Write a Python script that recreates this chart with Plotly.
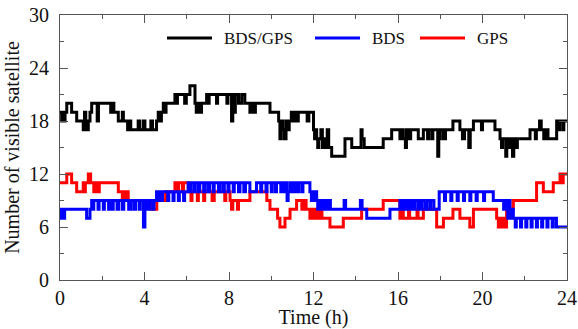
import plotly.graph_objects as go

# ---- data: step breakpoints (time in h, number of satellites) ----
t_bg = [0.00,0.08,0.12,0.20,0.24,0.32,0.55,0.79,1.10,1.16,1.22,1.28,1.34,1.42,1.50,1.76,1.82,2.40,2.48,2.55,
        2.76,2.95,3.00,3.20,3.28,3.35,3.70,3.78,3.95,4.02,4.30,4.38,4.57,4.65,4.72,4.80,4.89,4.95,5.02,5.44,
        5.50,5.56,5.90,5.98,6.15,6.39,6.45,6.52,6.60,6.70,6.94,7.00,7.06,7.41,7.46,7.90,7.95,8.12,8.18,8.25,
        8.30,8.45,8.60,8.75,8.99,9.05,9.15,9.25,9.94,10.35,10.41,10.47,10.55,10.62,10.70,10.78,10.85,10.95,11.02,11.10,
        11.20,11.28,11.70,11.78,12.00,12.05,12.10,12.15,12.20,12.25,12.35,12.42,12.50,12.58,12.65,12.72,12.86,13.49,13.81,14.25,
        14.30,14.40,15.30,15.70,16.09,16.15,16.25,16.35,16.40,16.50,16.60,16.96,17.20,17.40,17.45,17.60,17.65,17.88,17.93,18.00,
        18.15,18.25,18.60,18.93,19.05,19.15,19.35,19.42,19.57,19.95,20.00,20.59,20.83,20.90,20.95,21.10,21.15,21.25,21.30,21.42,
        21.48,21.60,21.65,22.25,22.50,22.55,22.70,22.78,22.90,22.98,23.10,23.51,23.60,23.65,23.80,23.85,24.00]
v_bg = [19,18,19,18,19,20,19,18,17,19,18,17,18,19,20,18,20,19,20,19,
        18,19,18,17,18,17,18,17,18,17,18,17,18,19,18,19,20,19,20,21,
        20,21,20,21,22,20,19,20,19,20,21,20,21,20,21,20,21,18,21,19,
        21,20,21,20,19,20,19,20,19,18,16,18,17,16,18,17,18,19,18,19,
        18,19,18,19,17,16,17,16,15,16,17,15,16,15,17,15,14,16,15,17,
        16,15,16,17,16,17,16,15,17,16,17,16,17,16,17,16,17,14,16,17,
        16,17,18,17,16,17,15,17,18,17,18,17,16,15,16,14,16,15,16,14,
        16,15,16,17,16,17,18,17,16,17,16,18,17,18,17,18,18]

t_bds = [0.00,0.05,0.10,0.16,0.22,1.26,1.42,1.50,1.55,1.60,1.80,1.85,2.05,2.10,2.30,2.38,2.45,2.52,2.70,2.78,
         2.95,3.02,3.25,3.35,3.50,3.58,3.75,3.80,3.95,4.02,4.08,4.20,4.25,4.40,4.45,4.57,4.62,4.70,4.75,4.85,
         5.10,5.15,5.35,5.40,5.60,5.65,5.85,5.90,6.07,6.15,6.20,6.35,6.40,6.55,6.62,6.80,6.85,7.00,7.08,7.25,
         7.30,7.50,7.55,7.70,7.78,7.95,8.00,8.20,8.25,8.45,8.52,8.70,8.78,8.99,9.30,9.50,9.55,9.75,9.80,10.00,
         10.05,10.20,10.25,10.45,10.50,10.60,10.70,10.75,10.80,10.90,11.00,11.10,11.20,11.30,11.45,11.50,11.83,11.90,11.95,12.05,
         12.10,12.15,12.20,12.28,12.35,12.45,12.50,12.60,12.65,12.75,12.80,13.45,13.52,14.22,14.30,14.52,15.62,16.09,16.15,16.20,
         16.30,16.35,16.45,16.50,16.60,16.65,16.75,16.80,16.95,17.00,17.10,17.15,17.30,17.35,17.50,17.55,17.70,17.95,18.20,18.25,
         18.50,18.55,18.80,18.85,19.10,19.15,19.40,19.45,19.70,19.75,20.05,20.10,20.51,21.00,21.05,21.14,21.20,21.25,21.30,21.38,
         21.46,21.55,21.60,21.80,21.85,22.05,22.10,22.30,22.35,22.55,22.60,22.80,22.85,23.05,23.10,23.30,23.35,23.50,24.00]
v_bds = [8,7,8,7,8,7,8,9,8,9,8,9,8,9,8,9,8,9,8,9,
         8,9,8,9,8,9,8,9,6,8,9,8,9,8,9,10,9,10,9,10,
         9,10,9,10,9,10,9,10,11,10,11,10,11,10,11,10,11,10,11,10,
         11,10,11,10,11,10,11,10,11,10,11,10,11,10,11,10,11,10,11,10,
         11,10,11,10,11,10,11,9,10,11,10,11,10,11,10,11,10,9,10,9,
         10,9,8,9,8,9,8,9,8,9,8,9,8,9,8,7,8,9,8,9,
         8,9,8,9,8,9,8,9,8,9,8,9,8,9,8,9,8,10,9,10,
         9,10,9,10,9,10,9,10,9,10,9,10,9,8,9,8,7,9,7,8,
         7,6,7,6,7,6,7,6,7,6,7,6,7,6,7,6,7,6,6]

t_gps = [0.00,0.32,0.55,0.79,1.10,1.15,1.20,1.34,1.45,1.60,1.68,1.81,1.86,2.76,2.95,3.00,3.10,3.20,3.23,4.33,
         4.58,5.00,5.44,5.55,5.62,5.80,5.85,6.07,6.20,6.25,6.50,6.55,6.80,6.85,7.20,7.30,7.80,7.85,8.05,8.12,
         8.18,8.40,8.45,8.99,9.79,9.94,10.30,10.41,10.65,10.89,11.20,11.45,11.55,11.65,11.83,11.90,12.00,12.10,12.20,12.30,
         12.40,12.78,13.41,14.28,15.30,16.09,16.20,16.25,16.50,16.55,16.90,16.95,17.20,17.83,18.15,18.60,18.93,19.40,19.57,20.67,
         20.75,20.80,20.90,20.95,21.05,21.14,21.25,21.30,21.46,22.56,22.88,23.35,23.67,23.75,23.82,24.00]
v_gps = [11,12,11,10,11,10,11,12,11,10,11,10,11,10,9,10,9,10,9,8,
         9,10,11,10,11,10,11,10,9,10,9,10,9,10,9,10,9,10,9,8,
         9,8,9,10,9,8,7,6,7,8,9,8,9,8,7,8,7,8,7,8,
         7,6,7,8,9,7,8,7,8,7,8,7,8,6,7,8,7,6,8,7,
         6,7,6,7,6,8,9,8,9,11,10,11,12,11,12,12]

legend_names = ["BDS/GPS", "BDS", "GPS"]
legend_colors = ["#000000", "#0000ff", "#ff0000"]

series = [
    ("BDS/GPS", t_bg, v_bg, "#000000"),
    ("GPS", t_gps, v_gps, "#ff0000"),
    ("BDS", t_bds, v_bds, "#0000ff"),
]

fig = go.Figure()
for name, t, v, col in series:
    fig.add_trace(go.Scatter(x=t, y=v, mode="lines", name=name, showlegend=False,
                             line=dict(color=col, width=3, shape="hv")))

# legend drawn in the top band of the plot (paper coordinates)
leg_y = 0.913
leg_line_x0 = [0.211, 0.503, 0.710]
leg_line_len = 0.0888
leg_text_gap = 0.0197
for name, col, x0 in zip(legend_names, legend_colors, leg_line_x0):
    fig.add_shape(type="line", xref="paper", yref="paper", x0=x0, x1=x0 + leg_line_len,
                  y0=leg_y, y1=leg_y, line=dict(color=col, width=3))
    fig.add_annotation(xref="paper", yref="paper", x=x0 + leg_line_len + leg_text_gap, y=leg_y,
                       text=name, showarrow=False, xanchor="left", yanchor="middle",
                       font=dict(size=17, color="#111111"))

axis_common = dict(showline=True, linecolor="#555555", linewidth=1, mirror="allticks",
                   ticks="inside", ticklen=8, tickcolor="#555555", showgrid=False, zeroline=False,
                   automargin=False, ticklabeloverflow="allow",
                   tickfont=dict(size=20, color="#111111"))
fig.update_xaxes(range=[0, 24], tickvals=[0, 4, 8, 12, 16, 20, 24],
                 minor=dict(dtick=2, tick0=0, ticks="inside", ticklen=4, tickcolor="#555555"),
                 title=dict(text="Time (h)", font=dict(size=20), standoff=10), **axis_common)
fig.update_yaxes(range=[0, 30], tickvals=[0, 6, 12, 18, 24, 30], ticklabelstandoff=6,
                 minor=dict(dtick=3, tick0=0, ticks="inside", ticklen=4, tickcolor="#555555"),
                 title=dict(text="Number of visible satellite", font=dict(size=20), standoff=4), **axis_common)

fig.update_layout(
    width=578, height=329,
    margin=dict(l=60, r=11, t=15, b=49),
    paper_bgcolor="white", plot_bgcolor="white",
    font=dict(family="Liberation Serif, Times New Roman, serif", size=20, color="#111111"),
    showlegend=False,
)

# remove the page's default 8 px body margin so the 578x329 figure fills the window
fig.write_html("out.html", config={"displayModeBar": False},
               post_script="document.body.style.margin='0';")
